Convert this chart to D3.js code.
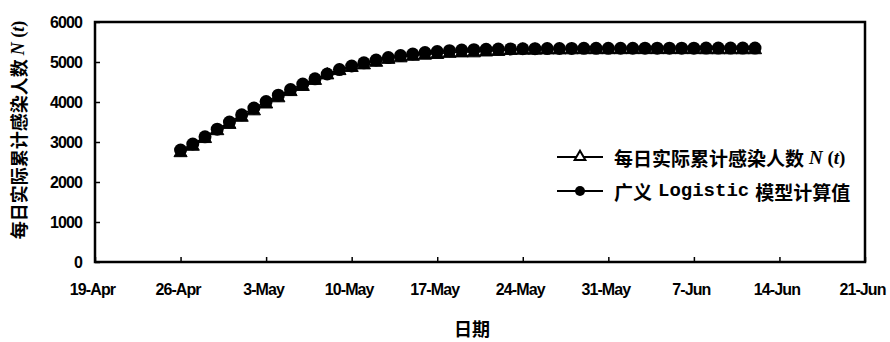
<!DOCTYPE html>
<html>
<head>
<meta charset="utf-8">
<script src="https://cdn.jsdelivr.net/npm/d3@7"></script>
<style>
  body { margin: 0; background: #fff; }
  .num { font-family: "Liberation Sans", Arial, sans-serif; font-weight: bold; font-size: 16px; letter-spacing: -0.9px; }
  .cjk { font-family: "Noto Sans CJK SC", sans-serif; font-weight: bold; }
</style>
</head>
<body>
<div class="container"></div>
<script>
// chart size and plot box
const width = 890;
const height = 342;
const margin = { top: 22, right: 25, bottom: 80, left: 95 };

// data: first day of the series, then daily values
const startDate = "2003-04-26";
const actual = [2753, 2914, 3106, 3303, 3460, 3638, 3799, 3970, 4125, 4280, 4409, 4560, 4698, 4805,
  4884, 4948, 5013, 5086, 5124, 5163, 5191, 5209, 5236, 5248, 5249, 5271, 5285, 5309, 5316, 5316,
  5323, 5323, 5325, 5328, 5328, 5328, 5328, 5329, 5329, 5329, 5329, 5329, 5329, 5327, 5326, 5326,
  5326, 5327];
const model = [2800, 2950, 3130, 3320, 3500, 3680, 3850, 4010, 4170, 4310, 4450, 4580, 4700, 4810,
  4900, 4980, 5050, 5110, 5160, 5200, 5235, 5262, 5282, 5297, 5308, 5316, 5322, 5327, 5331, 5334,
  5336, 5338, 5340, 5341, 5342, 5343, 5344, 5344, 5345, 5345, 5346, 5346, 5346, 5347, 5347, 5347,
  5347, 5348];
const xTicks = ["2003-04-19", "2003-04-26", "2003-05-03", "2003-05-10", "2003-05-17", "2003-05-24",
  "2003-05-31", "2003-06-07", "2003-06-14", "2003-06-21"];
const yTicks = [0, 1000, 2000, 3000, 4000, 5000, 6000];
const seriesNames = ["每日实际累计感染人数", "广义 Logistic 模型计算值"];

const parse = d3.timeParse("%Y-%m-%d");
const day0 = parse(startDate);
const dates = actual.map((d, i) => d3.timeDay.offset(day0, i));

const svg = d3.select(".container")
  .append("svg")
  .attr("width", width)
  .attr("height", height);

const x = d3.scaleTime()
  .domain([parse(xTicks[0]), parse(xTicks[xTicks.length - 1])])
  .range([margin.left, width - margin.right]);

const y = d3.scaleLinear()
  .domain([0, 6000])
  .range([height - margin.bottom, margin.top]);

// plot frame
svg.append("rect")
  .attr("x", margin.left)
  .attr("y", margin.top)
  .attr("width", width - margin.left - margin.right)
  .attr("height", height - margin.top - margin.bottom)
  .attr("fill", "none")
  .attr("stroke", "#000")
  .attr("stroke-width", 2.5);

// y axis (ticks point inward)
const yAxis = svg.append("g")
  .attr("transform", `translate(${margin.left},0)`)
  .call(d3.axisRight(y).tickValues(yTicks).tickSize(5).tickFormat(d3.format("d")));
yAxis.select(".domain").remove();
yAxis.selectAll("line").attr("stroke", "#000").attr("stroke-width", 1.5);
yAxis.selectAll("text")
  .attr("class", "num")
  .attr("x", -13)
  .attr("text-anchor", "end")
  .attr("fill", "#000");

// x axis
const xAxis = svg.append("g")
  .attr("transform", `translate(0,${height - margin.bottom})`)
  .call(d3.axisTop(x).tickValues(xTicks.map(parse)).tickSize(5).tickFormat(d3.timeFormat("%-d-%b")));
xAxis.select(".domain").remove();
xAxis.selectAll("line").attr("stroke", "#000").attr("stroke-width", 1.5);
xAxis.selectAll("text")
  .attr("class", "num")
  .attr("y", 33)
  .attr("dx", -3)
  .attr("fill", "#000");

// lines and markers
const line = d3.line()
  .x((d, i) => x(dates[i]))
  .y(d => y(d));

const tri = d3.symbol().type(d3.symbolTriangle).size(75);

svg.append("path")
  .datum(actual)
  .attr("d", line)
  .attr("fill", "none")
  .attr("stroke", "#000")
  .attr("stroke-width", 1.5);

svg.append("g").selectAll("path")
  .data(actual)
  .join("path")
  .attr("d", tri)
  .attr("transform", (d, i) => `translate(${x(dates[i])},${y(d) + 1})`)
  .attr("fill", "#000")
  .attr("stroke", "#000")
  .attr("stroke-width", 1);

svg.append("path")
  .datum(model)
  .attr("d", line)
  .attr("fill", "none")
  .attr("stroke", "#000")
  .attr("stroke-width", 1.5);

svg.append("g").selectAll("circle")
  .data(model)
  .join("circle")
  .attr("cx", (d, i) => x(dates[i]))
  .attr("cy", d => y(d))
  .attr("r", 6.5)
  .attr("fill", "#000");

// legend
const legend = svg.append("g");
const rows = [157, 191];
rows.forEach((ry, k) => {
  legend.append("line")
    .attr("x1", 557).attr("x2", 603)
    .attr("y1", ry).attr("y2", ry)
    .attr("stroke", "#000").attr("stroke-width", 2);
  if (k === 0) {
    legend.append("path")
      .attr("d", d3.symbol().type(d3.symbolTriangle).size(50))
      .attr("transform", `translate(580,${ry})`)
      .attr("fill", "#fff").attr("stroke", "#000").attr("stroke-width", 2);
  } else {
    legend.append("circle")
      .attr("cx", 580).attr("cy", ry).attr("r", 5)
      .attr("fill", "#000");
  }
});

const t1 = legend.append("text")
  .attr("class", "cjk")
  .attr("x", 614).attr("y", rows[0])
  .attr("dominant-baseline", "central")
  .attr("font-size", 19);
t1.append("tspan").text(seriesNames[0]);
t1.append("tspan")
  .attr("dx", 5)
  .style("font-family", "'Liberation Serif', serif")
  .style("font-style", "italic")
  .text("N");
t1.append("tspan")
  .style("font-family", "'Liberation Serif', serif")
  .text(" (");
t1.append("tspan")
  .style("font-family", "'Liberation Serif', serif")
  .style("font-style", "italic")
  .text("t");
t1.append("tspan")
  .style("font-family", "'Liberation Serif', serif")
  .text(")");

const parts = seriesNames[1].split(" ");
const t2 = legend.append("text")
  .attr("class", "cjk")
  .attr("x", 614).attr("y", rows[1])
  .attr("dominant-baseline", "central")
  .attr("font-size", 19);
t2.append("tspan").text(parts[0]);
t2.append("tspan")
  .attr("dx", 6)
  .style("font-family", "'Liberation Mono', monospace")
  .style("font-size", "19px")
  .text(parts[1]);
t2.append("tspan").attr("dx", 6).text(parts[2]);

// axis titles
svg.append("text")
  .attr("class", "cjk")
  .attr("x", 472).attr("y", 328)
  .attr("text-anchor", "middle")
  .attr("dominant-baseline", "central")
  .attr("font-size", 18)
  .text("日期");

const yt = svg.append("text")
  .attr("class", "cjk")
  .attr("transform", "translate(18,130) rotate(-90)")
  .attr("text-anchor", "middle")
  .attr("dominant-baseline", "central")
  .attr("font-size", 18);
yt.append("tspan").text(seriesNames[0]);
yt.append("tspan")
  .attr("dx", 4)
  .style("font-family", "'Liberation Serif', serif")
  .style("font-style", "italic")
  .text("N");
yt.append("tspan")
  .style("font-family", "'Liberation Serif', serif")
  .text(" (");
yt.append("tspan")
  .style("font-family", "'Liberation Serif', serif")
  .style("font-style", "italic")
  .text("t");
yt.append("tspan")
  .style("font-family", "'Liberation Serif', serif")
  .text(")");
</script>
</body>
</html>
